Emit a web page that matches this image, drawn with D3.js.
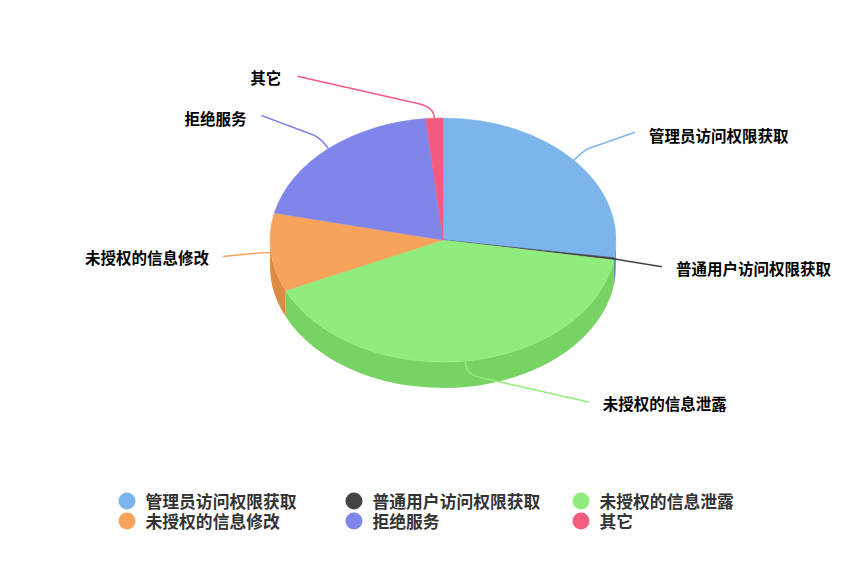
<!DOCTYPE html>
<html lang="zh">
<head>
    <meta charset="UTF-8">
    <title>pie3d</title>
    <script src="https://cdn.jsdelivr.net/npm/d3@7/dist/d3.min.js"></script>
    <style>
        html, body { margin: 0; padding: 0; background: #fff; }
        svg { display: block; }
        text { font-family: "Noto Sans CJK SC", "Noto Sans", sans-serif; font-weight: 700; }
    </style>
</head>
<body>
<svg class="chart"></svg>
<script>
    // data (percent)
    var categories = ['管理员访问权限获取', '普通用户访问权限获取', '未授权的信息泄露', '未授权的信息修改', '拒绝服务', '其它'];
    var values = [27.4, 0.3, 40.7, 10.4, 19.9, 1.6];
    var colors = ['#7cb5ec', '#434348', '#90ed7d', '#f7a35c', '#8085e9', '#f15c80'];

    var width = 864, height = 564;
    var cx = 443, cy = 240, rx = 173, ry = 122, depth = 26;

    // connector end, relative to the slice's point on the rim
    var labelDx = [61, 48, 123, -48, -67, -137];
    var labelDy = [-28, 8, 41, 4, -33, -42];
    var elbowDx = [10, 6, -1, -6, -8, 0];
    var elbowDy = [-10, 1, 13, 0, -11, -11];
    var labelGap = [14, 14, 14, 14, 15, 16];
    var labelShift = [10, 8, 8, 8, 9, 8];

    var legendColX = [127, 354, 581];
    var legendRowY = [501, 521];

    var svg = d3.select('.chart').attr('width', width).attr('height', height);

    var pie = d3.pie().sort(null).value(function (d) { return d; });
    var arcs = pie(values);

    function px(a) { return cx + rx * Math.sin(a); }
    function py(a) { return cy - ry * Math.cos(a); }

    // same shade step for all walls
    function shade(c) {
        var r = d3.rgb(c);
        return d3.rgb(r.r - 25, r.g - 25, r.b - 25).formatHex();
    }

    function topPath(d) {
        var large = d.endAngle - d.startAngle > Math.PI ? 1 : 0;
        return 'M' + cx + ',' + cy +
            'L' + px(d.startAngle) + ',' + py(d.startAngle) +
            'A' + rx + ',' + ry + ' 0 ' + large + ' 1 ' + px(d.endAngle) + ',' + py(d.endAngle) + 'Z';
    }

    // outer wall, only the part facing the viewer (angle between 90 and 270 deg)
    function sidePath(d) {
        var a0 = Math.max(d.startAngle, Math.PI / 2);
        var a1 = Math.min(d.endAngle, Math.PI * 1.5);
        if (a1 <= a0) return null;
        var large = a1 - a0 > Math.PI ? 1 : 0;
        return 'M' + px(a0) + ',' + py(a0) +
            'A' + rx + ',' + ry + ' 0 ' + large + ' 1 ' + px(a1) + ',' + py(a1) +
            'L' + px(a1) + ',' + (py(a1) + depth) +
            'A' + rx + ',' + ry + ' 0 ' + large + ' 0 ' + px(a0) + ',' + (py(a0) + depth) + 'Z';
    }

    svg.append('g').selectAll('path')
        .data(arcs)
        .enter()
        .append('path')
        .attr('d', sidePath)
        .attr('fill', function (d, i) { return shade(colors[i]); });

    svg.append('g').selectAll('path')
        .data(arcs)
        .enter()
        .append('path')
        .attr('d', topPath)
        .attr('fill', function (d, i) { return colors[i]; })
        .attr('stroke', function (d, i) { return colors[i]; })
        .attr('stroke-width', 0.5);

    function mid(d) { return (d.startAngle + d.endAngle) / 2; }

    var conn = svg.append('g').attr('fill', 'none').attr('stroke-width', 1.5);
    conn.selectAll('path')
        .data(arcs)
        .enter()
        .append('path')
        .attr('stroke', function (d, i) { return colors[i]; })
        .attr('d', function (d, i) {
            var a = mid(d), x = px(a), y = py(a);
            var cpx = x + elbowDx[i], cpy = y + elbowDy[i];
            var endX = x + labelDx[i], endY = y + labelDy[i];
            var p = d3.path();
            p.moveTo(x, y);
            // curve ends on the straight run so there is no kink
            p.quadraticCurveTo(cpx, cpy, cpx + (endX - cpx) * 0.12, cpy + (endY - cpy) * 0.12);
            p.lineTo(endX, endY);
            return p.toString();
        });

    svg.append('g').selectAll('text')
        .data(arcs)
        .enter()
        .append('text')
        .attr('x', function (d, i) { return px(mid(d)) + labelDx[i] + (labelDx[i] > 0 ? labelGap[i] : -labelGap[i]); })
        .attr('y', function (d, i) { return py(mid(d)) + labelDy[i] + labelShift[i]; })
        .attr('text-anchor', function (d, i) { return labelDx[i] > 0 ? 'start' : 'end'; })
        .attr('font-size', 15.5)
        .attr('fill', '#000')
        .text(function (d, i) { return categories[i]; });

    var legend = svg.append('g').selectAll('g')
        .data(categories)
        .enter()
        .append('g')
        .attr('transform', function (d, i) {
            return 'translate(' + legendColX[i % 3] + ',' + legendRowY[Math.floor(i / 3)] + ')';
        });
    legend.append('circle')
        .attr('r', 8.5)
        .attr('fill', function (d, i) { return colors[i]; });
    legend.append('text')
        .attr('x', 18.5)
        .attr('y', 7)
        .attr('font-size', 16.8)
        .attr('fill', '#333')
        .text(function (d) { return d; });
</script>
</body>
</html>
